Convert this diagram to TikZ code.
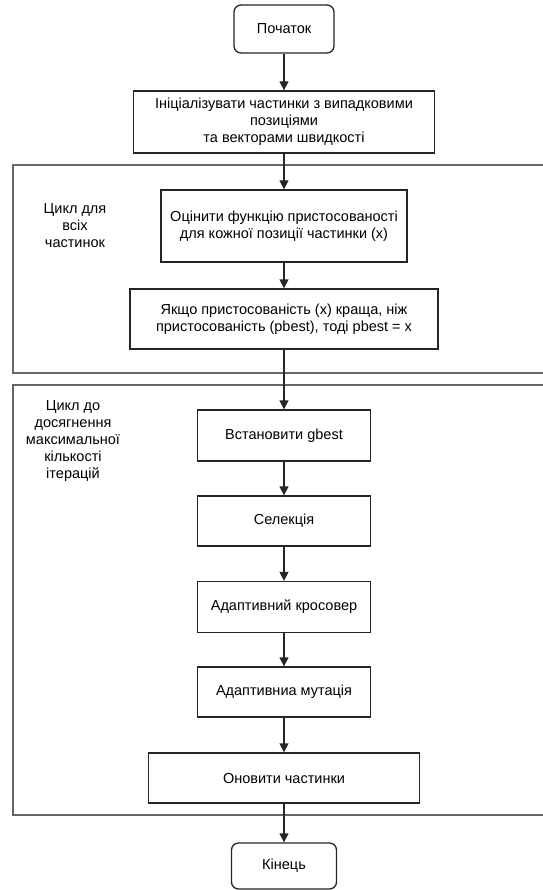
\documentclass[tikz,border=0pt]{standalone}
\usepackage{fontspec}
\setmainfont{Liberation Sans}
\usetikzlibrary{arrows.meta}
\begin{document}
\begin{tikzpicture}[x=1pt,y=-1pt,
  font=\fontsize{14.5}{17}\selectfont,
  stepbox/.style={draw=black!85, line width=1.3pt, fill=white, inner sep=0pt, align=center},
  termbox/.style={stepbox, rounded corners=7pt},
  framebox/.style={draw=black!60, line width=1.6pt},
  lbl/.style={align=center, inner sep=0pt},
  flow/.style={draw=black!85, line width=1.3pt, -{Triangle[width=9pt,length=9pt]}}]
\useasboundingbox (0,0) rectangle (542,890);
% frames
\draw[framebox] (13,165) rectangle (570,373);
\draw[framebox] (13,385) rectangle (570,815);
\node[lbl] (l1) at (75,226) {Цикл для\\всіх\\частинок};
\node[lbl] (l2) at (73,441) {Цикл до\\досягнення\\максимальної\\кількості\\ітерацій};
% nodes
\node[termbox, minimum width=100pt, minimum height=48pt] (start) at (284,29) {Початок};
\node[stepbox, minimum width=301pt, minimum height=62pt] (init) at (284,122) {Ініціалізувати частинки з випадковими\\позиціями\\та векторами швидкості};
\node[stepbox, minimum width=246pt, minimum height=72pt] (eval) at (284,226) {Оцінити функцію пристосованості\\для кожної позиції частинки (x)};
\node[stepbox, minimum width=308pt, minimum height=60pt] (yak) at (284,319) {Якщо пристосованість (x) краща, ніж\\пристосованість (pbest), тоді pbest = x};
\node[stepbox, minimum width=173pt, minimum height=51pt] (vst) at (284,435.5) {Встановити gbest};
\node[stepbox, minimum width=173pt, minimum height=50pt] (sel) at (284,521) {Селекція};
\node[stepbox, minimum width=173pt, minimum height=51pt] (kros) at (284,607) {Адаптивний кросовер};
\node[stepbox, minimum width=173pt, minimum height=50pt] (mut) at (284,692) {Адаптивниа мутація};
\node[stepbox, minimum width=271pt, minimum height=50pt] (onov) at (284,778) {Оновити частинки};
\node[termbox, minimum width=105pt, minimum height=46pt] (end) at (284,866) {Кінець};
% connectors
\draw[flow] (start) -- (init);
\draw[flow] (init) -- (eval);
\draw[flow] (eval) -- (yak);
\draw[flow] (yak) -- (vst);
\draw[flow] (vst) -- (sel);
\draw[flow] (sel) -- (kros);
\draw[flow] (kros) -- (mut);
\draw[flow] (mut) -- (onov);
\draw[flow] (onov) -- (end);
\end{tikzpicture}
\end{document}
